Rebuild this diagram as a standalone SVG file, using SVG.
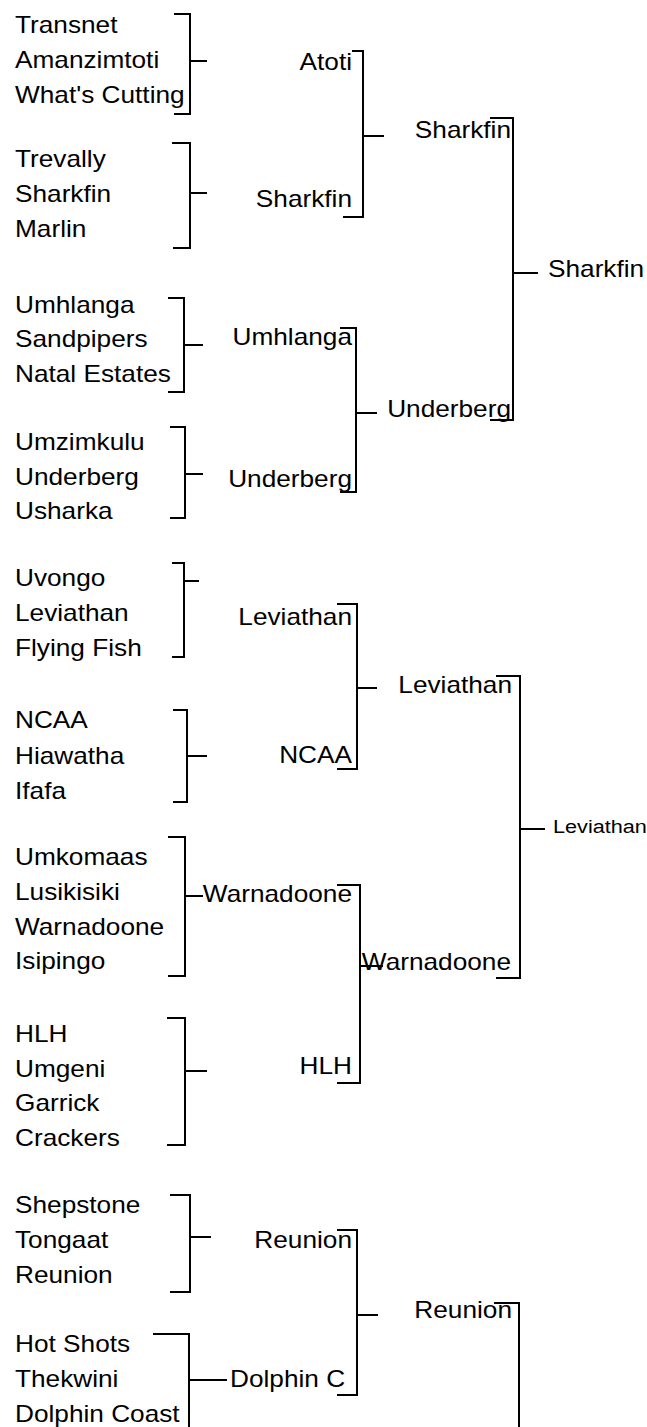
<svg xmlns="http://www.w3.org/2000/svg" width="647" height="1427" viewBox="0 0 647 1427">
<style>
text{font-family:"Liberation Sans",Arial,sans-serif;font-size:23px;fill:#000}
.e{text-anchor:end}
.s{font-size:19px}
.c{fill:none;stroke:#000;stroke-width:2}
</style>
<rect width="647" height="1427" fill="#fff"/>
<g id="connectors" class="c">
<path d="M174,14H190V114H174M190,61H207"/>
<path d="M172,143H190V248H173M190,193H207"/>
<path d="M168,298H184V392H168M184,345H203"/>
<path d="M170,427H185V518H170M185,474H203"/>
<path d="M172,563H184V657H172M184,581H199"/>
<path d="M173,710H187V802H173M187,756H207"/>
<path d="M168,837H185V976H168M185,896H203"/>
<path d="M167,1018H185V1145H167M185,1071H207"/>
<path d="M170,1195H190V1292H170M190,1237H211"/>
<path d="M153,1334H189V1427M189,1380H227"/>
<path d="M352,51H363V217H343M363,136H384"/>
<path d="M340,328H356V492H340M356,413H377"/>
<path d="M337,604H357V769H337M357,688H377"/>
<path d="M337,885H360V1083H337M360,966H383"/>
<path d="M337,1230H357V1395H337M357,1315H378"/>
<path d="M490,118H513V420H490M513,273H538"/>
<path d="M496,676H520V978H496M520,829H545"/>
<path d="M494,1303H519V1427"/>
</g>
<g id="pool-1"><text transform="translate(15,33) scale(1.14,1)">Transnet</text><text transform="translate(15,68) scale(1.14,1)">Amanzimtoti</text><text transform="translate(15,103) scale(1.14,1)">What's Cutting</text></g>
<g id="pool-2"><text transform="translate(15,167) scale(1.14,1)">Trevally</text><text transform="translate(15,202) scale(1.14,1)">Sharkfin</text><text transform="translate(15,237) scale(1.14,1)">Marlin</text></g>
<g id="pool-3"><text transform="translate(15,313) scale(1.14,1)">Umhlanga</text><text transform="translate(15,347) scale(1.14,1)">Sandpipers</text><text transform="translate(15,382) scale(1.14,1)">Natal Estates</text></g>
<g id="pool-4"><text transform="translate(15,450) scale(1.14,1)">Umzimkulu</text><text transform="translate(15,485) scale(1.14,1)">Underberg</text><text transform="translate(15,519) scale(1.14,1)">Usharka</text></g>
<g id="pool-5"><text transform="translate(15,586) scale(1.14,1)">Uvongo</text><text transform="translate(15,621) scale(1.14,1)">Leviathan</text><text transform="translate(15,656) scale(1.14,1)">Flying Fish</text></g>
<g id="pool-6"><text transform="translate(15,728) scale(1.14,1)">NCAA</text><text transform="translate(15,764) scale(1.14,1)">Hiawatha</text><text transform="translate(15,799) scale(1.14,1)">Ifafa</text></g>
<g id="pool-7"><text transform="translate(15,865) scale(1.14,1)">Umkomaas</text><text transform="translate(15,900) scale(1.14,1)">Lusikisiki</text><text transform="translate(15,935) scale(1.14,1)">Warnadoone</text><text transform="translate(15,969) scale(1.14,1)">Isipingo</text></g>
<g id="pool-8"><text transform="translate(15,1042) scale(1.14,1)">HLH</text><text transform="translate(15,1077) scale(1.14,1)">Umgeni</text><text transform="translate(15,1111) scale(1.14,1)">Garrick</text><text transform="translate(15,1146) scale(1.14,1)">Crackers</text></g>
<g id="pool-9"><text transform="translate(15,1213) scale(1.14,1)">Shepstone</text><text transform="translate(15,1248) scale(1.14,1)">Tongaat</text><text transform="translate(15,1283) scale(1.14,1)">Reunion</text></g>
<g id="pool-10"><text transform="translate(15,1352) scale(1.14,1)">Hot Shots</text><text transform="translate(15,1387) scale(1.14,1)">Thekwini</text><text transform="translate(15,1422) scale(1.14,1)">Dolphin Coast</text></g>
<g id="r2-atoti"><text class="e" transform="translate(352,70) scale(1.14,1)">Atoti</text></g>
<g id="r2-sharkfin"><text class="e" transform="translate(352,207) scale(1.14,1)">Sharkfin</text></g>
<g id="r2-umhlanga"><text class="e" transform="translate(352,345) scale(1.14,1)">Umhlanga</text></g>
<g id="r2-underberg"><text class="e" transform="translate(352,487) scale(1.14,1)">Underberg</text></g>
<g id="r2-leviathan"><text class="e" transform="translate(352,625) scale(1.14,1)">Leviathan</text></g>
<g id="r2-ncaa"><text class="e" transform="translate(352,763) scale(1.14,1)">NCAA</text></g>
<g id="r2-warnadoone"><text class="e" transform="translate(352,902) scale(1.14,1)">Warnadoone</text></g>
<g id="r2-hlh"><text class="e" transform="translate(352,1074) scale(1.14,1)">HLH</text></g>
<g id="r2-reunion"><text class="e" transform="translate(352,1248) scale(1.14,1)">Reunion</text></g>
<g id="r2-dolphin"><text transform="translate(230,1387) scale(1.14,1)">Dolphin C</text></g>
<g id="r3-sharkfin"><text class="e" transform="translate(511,138) scale(1.14,1)">Sharkfin</text></g>
<g id="r3-underberg"><text class="e" transform="translate(511,417) scale(1.14,1)">Underberg</text></g>
<g id="r3-leviathan"><text class="e" transform="translate(512,693) scale(1.14,1)">Leviathan</text></g>
<g id="r3-warnadoone"><text class="e" transform="translate(511,970) scale(1.14,1)">Warnadoone</text></g>
<g id="r3-reunion"><text class="e" transform="translate(512,1318) scale(1.14,1)">Reunion</text></g>
<g id="final-sharkfin"><text transform="translate(548,277) scale(1.14,1)">Sharkfin</text></g>
<g id="final-leviathan"><text class="s" transform="translate(553,833) scale(1.14,1)">Leviathan</text></g>
</svg>
